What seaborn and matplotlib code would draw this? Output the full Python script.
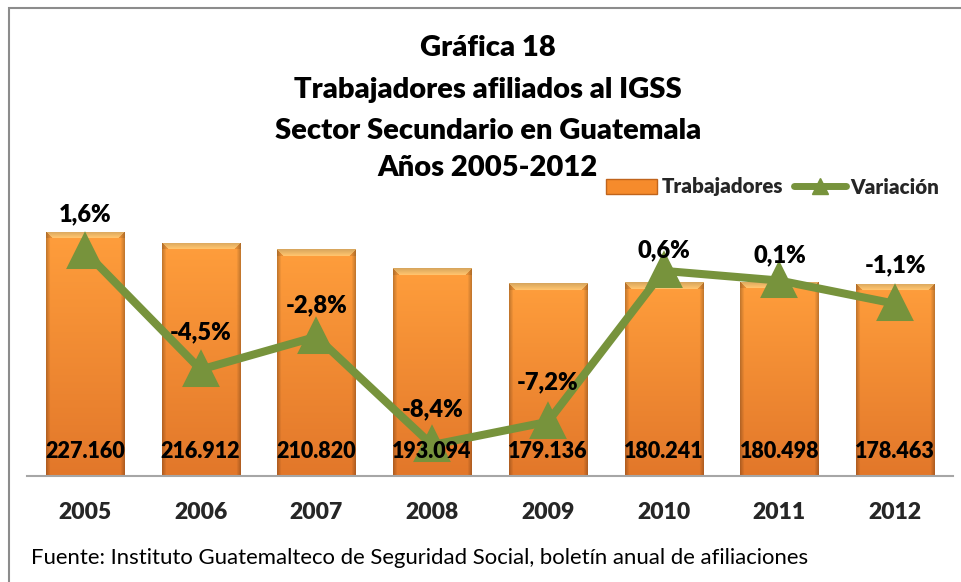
import numpy as np
import pandas as pd
import matplotlib
matplotlib.use("Agg")
import matplotlib.pyplot as plt
from matplotlib.patches import Rectangle, Patch
from matplotlib.lines import Line2D
from matplotlib.colors import to_rgb
import seaborn as sns

years = ["2005", "2006", "2007", "2008", "2009", "2010", "2011", "2012"]
trabajadores = [227160, 216912, 210820, 193094, 179136, 180241, 180498, 178463]
variacion = [1.6, -4.5, -2.8, -8.4, -7.2, 0.6, 0.1, -1.1]

titulo = ["Gráfica 18", "Trabajadores afiliados al IGSS",
          "Sector Secundario en Guatemala", "Años 2005-2012"]
fuente = "Fuente: Instituto Guatemalteco de Seguridad Social, boletín anual de afiliaciones"

# label offsets above the points (pixels), as placed in the original
pct_offsets = [37, 37, 31, 36, 40, 21, 25, 38]

orange = "#F68B2C"
green = "#77933C"
BOLD = "heavy"


def fmt_miles(v):
    return f"{v:,}".replace(",", ".")


def fmt_pct(v):
    return f"{v:.1f}%".replace(".", ",")


sns.set_theme(style="white")
plt.rcParams["font.family"] = ["Lato", "DejaVu Sans"]

W, H = 961, 582
fig = plt.figure(figsize=(W / 100, H / 100), dpi=100)
ax = fig.add_axes([27 / W, 106 / H, 926 / W, 269 / H])

df = pd.DataFrame({"anio": years, "trab": trabajadores, "var": variacion})
sns.barplot(data=df, x="anio", y="trab", color=orange, saturation=1,
            width=0.674, edgecolor="none", ax=ax, zorder=1)
ymax = 250000
ax.set_ylim(0, ymax)
xlim = ax.get_xlim()

# cylinder-like shading for each bar
top_c = np.array(to_rgb("#FF9E3C"))
bot_c = np.array(to_rgb("#E2772A"))
bevel_c = np.array(to_rgb("#FFC46E"))
px_per_unit = 269 / ymax
bar_boxes = []
for p in ax.patches:
    x0, w, h = p.get_x(), p.get_width(), p.get_height()
    bar_boxes.append((x0, w, h))
    ny = max(int(h * px_per_unit), 10)
    nx = 78
    t = np.linspace(0, 1, ny)[:, None, None]
    img = top_c * (1 - t) + bot_c * t
    img = np.repeat(img, nx, axis=1)
    cols = np.arange(nx)
    edge = np.minimum(cols, nx - 1 - cols)
    shade = 1 - 0.22 * np.clip(1 - edge / 4.0, 0, 1)
    img = img * shade[None, :, None]
    for r in range(7):
        lo, hi = r, nx - 1 - r
        img[r, lo:hi + 1] = bevel_c * (0.85 + 0.15 * r / 6)
        img[r, :lo] = img[r, :lo] * 0.9
        img[r, hi + 1:] = img[r, hi + 1:] * 0.9
    img = np.clip(img, 0, 1)
    im = ax.imshow(img, extent=[x0, x0 + w, 0, h], origin="upper",
                   aspect="auto", interpolation="bilinear", zorder=1.5)
    im.set_clip_path(p)

ax.set_xlim(xlim)
ax.set_ylim(0, ymax)
ax.set_aspect("auto")

ax2 = ax.twinx()
sns.pointplot(data=df, x="anio", y="var", ax=ax2, color=green,
              markers="^", markersize=20, linewidth=5.8, errorbar=None)
ax2.set_ylim(-10, 3.9)
ax2.set_xlim(xlim)

# value labels drawn on top of the line, as in the original
for x0, w, h in bar_boxes:
    ax2.annotate(fmt_miles(int(round(h))), xy=(x0 + w / 2, 0),
                 xycoords=ax.transData, xytext=(0, 18),
                 textcoords="offset points", ha="center", va="center",
                 fontsize=15.5, fontweight=BOLD, color="black", zorder=5)

for i, v in enumerate(variacion):
    ax2.annotate(fmt_pct(v), xy=(i, v), xytext=(0, pct_offsets[i] * 0.72),
                 textcoords="offset points", ha="center", va="center",
                 fontsize=17, fontweight=BOLD, color="black")

for a in (ax, ax2):
    a.set_ylabel("")
    a.set_yticks([])
    for s in a.spines.values():
        s.set_visible(False)
ax.spines["bottom"].set_visible(True)
ax.spines["bottom"].set_color("#A6A6A6")
ax.spines["bottom"].set_linewidth(1.5)
ax.set_xlabel("")
ax2.set_xlabel("")
ax.tick_params(axis="x", length=0, pad=19, labelsize=16.5)
for lbl in ax.get_xticklabels():
    lbl.set_fontweight(BOLD)

# titles
title_y = [48, 90, 131, 168]
for txt, yy in zip(titulo, title_y):
    fig.text(488 / W, 1 - yy / H, txt, ha="center", va="center",
             fontsize=21, fontweight=BOLD, color="black")

fig.text(31 / W, 1 - 558 / H, fuente, ha="left", va="center",
         fontsize=15.9, color="black")

handles = [Patch(facecolor=orange, edgecolor="#C0641C"),
           Line2D([0], [0], color=green, lw=5, marker="^", markersize=11)]
fig.legend(handles, ["Trabajadores", "Variación"], loc="center left",
           bbox_to_anchor=(606 / W, 1 - 187 / H), ncol=2, frameon=False,
           prop={"weight": BOLD, "size": 14.8}, handlelength=2.5,
           handleheight=0.7, handletextpad=0.2, columnspacing=0.55,
           borderaxespad=0, borderpad=0)

fig.patches.append(Rectangle((9 / W, -0.1), 1.2, 1.1 - 8 / H,
                             transform=fig.transFigure, fill=False,
                             edgecolor="#8C8C8C", linewidth=1.5))

fig.savefig("out.png", dpi=100, facecolor="white")
